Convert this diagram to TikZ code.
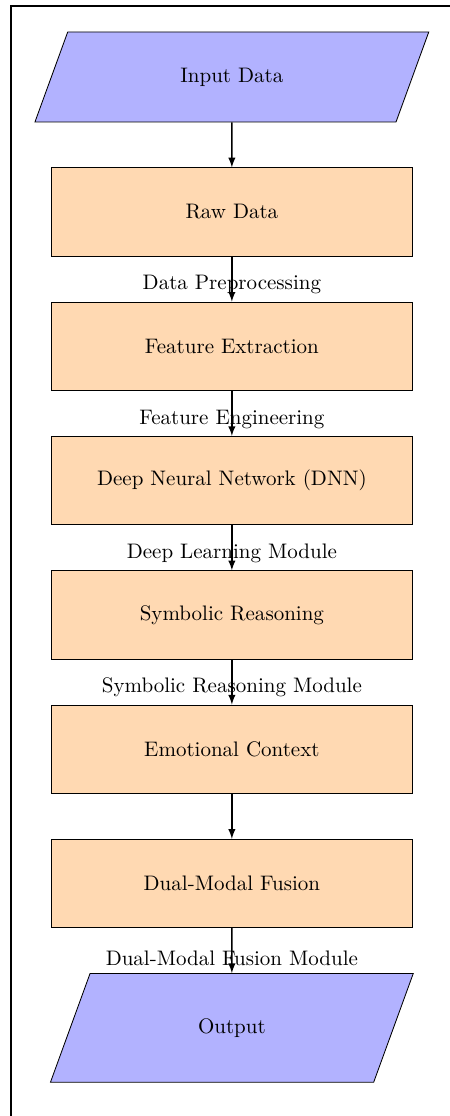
\documentclass[tikz,border=0pt]{standalone}
\usepackage{tikz}
\usetikzlibrary{shapes.geometric}
\usetikzlibrary{arrows}
\usetikzlibrary{positioning}

\begin{document}
\begin{tikzpicture}[
    iobox/.style={trapezium, trapezium left angle=70, trapezium right angle=110,
      trapezium stretches body, draw, fill=blue!30, text centered},
    procbox/.style={rectangle, draw, fill=orange!30, minimum width=6.05cm,
      minimum height=1.48cm, text centered},
    flow/.style={->, >=latex, semithick},
    node distance=0.753cm]
    \useasboundingbox (0,0) rectangle (7.53,-18.675);
    \draw[line width=1pt] (0.184,-19) rectangle (8,-0.1);
    \node[iobox, minimum width=6.59cm, inner ysep=0.599cm] (input) at (3.88,-1.288) {Input Data};
    \node[procbox, below=of input] (raw) {Raw Data};
    \node[procbox, below=of raw] (feature) {Feature Extraction};
    \node[procbox, below=of feature] (dnn) {Deep Neural Network (DNN)};
    \node[procbox, below=of dnn] (symbolic) {Symbolic Reasoning};
    \node[procbox, below=of symbolic] (emotion) {Emotional Context};
    \node[procbox, below=of emotion] (fusion) {Dual-Modal Fusion};
    \node[iobox, minimum width=6.07cm, inner ysep=0.751cm, below=of fusion] (output) {Output};
    \node[above=0pt of feature] (preproc) {Data Preprocessing};
    \node[above=0pt of dnn] (engineering) {Feature Engineering};
    \node[above=0pt of symbolic] (dlmodule) {Deep Learning Module};
    \node[above=0pt of emotion] (srmodule) {Symbolic Reasoning Module};
    \node[above=0pt of output] (fusionmodule) {Dual-Modal Fusion Module};
    \draw[flow] (input) -- (raw);
    \draw[flow] (raw) -- (feature);
    \draw[flow] (feature) -- (dnn);
    \draw[flow] (dnn) -- (symbolic);
    \draw[flow] (symbolic) -- (emotion);
    \draw[flow] (emotion) -- (fusion);
    \draw[flow] (fusion) -- (output);
\end{tikzpicture}
\end{document}
